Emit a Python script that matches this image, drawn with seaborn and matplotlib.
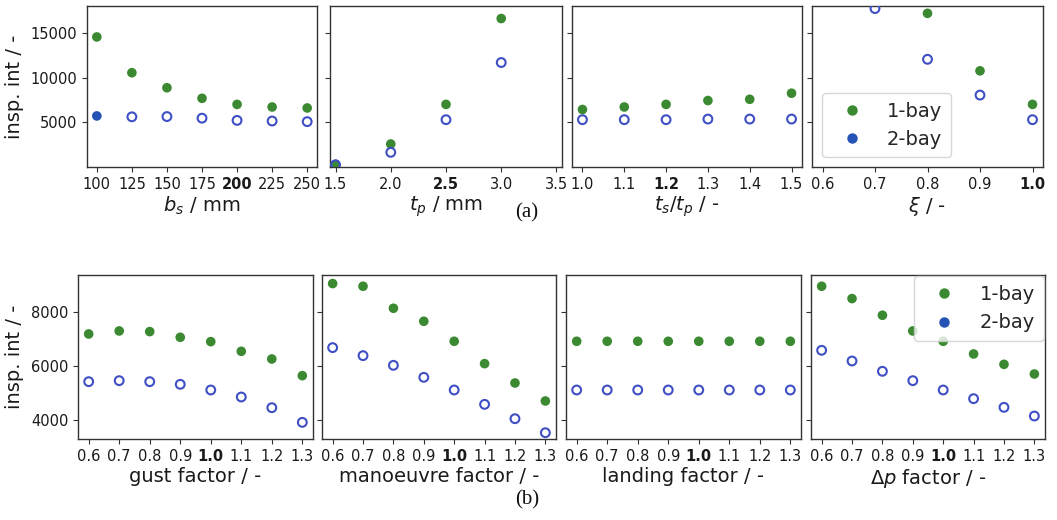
import numpy as np
import pandas as pd
import matplotlib
matplotlib.use("Agg")
import matplotlib.pyplot as plt
from matplotlib.lines import Line2D
from matplotlib.transforms import blended_transform_factory
import seaborn as sns

# ---------------- data (a) ----------------
bs_x = [100, 125, 150, 175, 200, 225, 250]
bs_1bay = [14540, 10540, 8860, 7680, 7000, 6710, 6600]
bs_2bay = [np.nan, 5610, 5640, 5460, 5210, 5140, 5070]
bs_2bay_filled_x = [100]
bs_2bay_filled = [5710]
bs_ticks = [100, 125, 150, 175, 200, 225, 250]
bs_ticklabels = ["100", "125", "150", "175", "200", "225", "250"]

tp_x = [1.5, 2.0, 2.5, 3.0]
tp_1bay = [290, 2570, 7000, 16600]
tp_2bay = [250, 1640, 5290, 11680]
tp_ticks = [1.5, 2.0, 2.5, 3.0, 3.5]
tp_ticklabels = ["1.5", "2.0", "2.5", "3.0", "3.5"]

ts_x = [1.0, 1.1, 1.2, 1.3, 1.4, 1.5]
ts_1bay = [6430, 6710, 7000, 7430, 7570, 8250]
ts_2bay = [5290, 5290, 5290, 5360, 5360, 5360]
ts_ticks = [1.0, 1.1, 1.2, 1.3, 1.4, 1.5]
ts_ticklabels = ["1.0", "1.1", "1.2", "1.3", "1.4", "1.5"]

xi_x = [0.6, 0.7, 0.8, 0.9, 1.0]
xi_1bay = [np.nan, np.nan, 17180, 10750, 7000]
xi_2bay = [np.nan, 17710, 12040, 8040, 5290]
xi_ticks = [0.6, 0.7, 0.8, 0.9, 1.0]
xi_ticklabels = ["0.6", "0.7", "0.8", "0.9", "1.0"]

# ---------------- data (b) ----------------
fac_x = [0.6, 0.7, 0.8, 0.9, 1.0, 1.1, 1.2, 1.3]
fac_ticklabels = ["0.6", "0.7", "0.8", "0.9", "1.0", "1.1", "1.2", "1.3"]
gust_1bay = [7175, 7286, 7262, 7052, 6892, 6535, 6252, 5637]
gust_2bay = [5415, 5452, 5415, 5317, 5108, 4849, 4455, 3914]
man_1bay = [9034, 8935, 8123, 7643, 6905, 6080, 5366, 4702]
man_2bay = [6671, 6375, 6018, 5575, 5108, 4578, 4049, 3532]
land_1bay = [6905, 6905, 6905, 6905, 6905, 6905, 6905, 6905]
land_2bay = [5108, 5108, 5108, 5108, 5108, 5108, 5108, 5108]
dp_1bay = [8935, 8480, 7865, 7286, 6905, 6437, 6055, 5698]
dp_2bay = [6572, 6178, 5797, 5452, 5108, 4788, 4468, 4148]

GREEN = "#3b8a32"
BLUE = "#3f4fc4"
BLUE_FILL = "#2452b5"
TXT = "#1a1a1a"

sns.set_style("ticks")
plt.rcParams["font.family"] = ["DejaVu Sans"]
plt.rcParams["axes.edgecolor"] = "#333333"
plt.rcParams["xtick.color"] = "#333333"
plt.rcParams["ytick.color"] = "#333333"
plt.rcParams["xtick.labelcolor"] = TXT
plt.rcParams["ytick.labelcolor"] = TXT

W, H = 1057, 520
fig = plt.figure(figsize=(W / 100, H / 100), dpi=100)


def make_ax(x0, x1, y0, y1):
    return fig.add_axes([x0 / W, 1 - y1 / H, (x1 - x0) / W, (y1 - y0) / H])


def draw(ax, x, g, b, ticks, labels, bold, xlabel, ylim, yticks, ylabel=None):
    df = pd.DataFrame({"x": x, "g": g, "b": b})
    sns.scatterplot(data=df, x="x", y="g", ax=ax, color=GREEN, s=48,
                    edgecolor="none", zorder=3, legend=False)
    sns.scatterplot(data=df, x="x", y="b", ax=ax, facecolor="none",
                    edgecolor=BLUE, s=40, linewidth=1.5, zorder=3, legend=False)
    ax.set_ylim(*ylim)
    ax.set_yticks(yticks)
    if ylabel:
        ax.set_yticklabels([str(v) for v in yticks], fontsize=10.5)
        ax.set_ylabel(ylabel, fontsize=14, color=TXT)
    else:
        ax.set_yticklabels([])
        ax.set_ylabel("")
    ax.set_xticks(ticks)
    ax.set_xticklabels(labels, fontsize=10.5)
    for t in ax.get_xticklabels():
        if t.get_text() == bold:
            t.set_fontweight("bold")
    ax.set_xlabel(xlabel, fontsize=14, color=TXT, labelpad=2)
    for s in ax.spines.values():
        s.set_linewidth(1.0)


ylim_a = (0, 18000)
yt_a = [5000, 10000, 15000]
ylim_b = (3300, 9350)
yt_b = [4000, 6000, 8000]

# top row
a1 = make_ax(87, 317, 6, 167)
draw(a1, bs_x, bs_1bay, bs_2bay, bs_ticks, bs_ticklabels, "200",
     r"$b_s$ / mm", ylim_a, yt_a, "insp. int / -")
sns.scatterplot(x=bs_2bay_filled_x, y=bs_2bay_filled, ax=a1, color=BLUE_FILL,
                s=48, edgecolor="none", zorder=3, legend=False)
a1.set_xlim(93, 257)

a2 = make_ax(330, 562, 6, 167)
draw(a2, tp_x, tp_1bay, tp_2bay, tp_ticks, tp_ticklabels, "2.5",
     r"$t_p$ / mm", ylim_a, yt_a)
a2.set_xlim(1.45, 3.55)

a3 = make_ax(572, 802, 6, 167)
draw(a3, ts_x, ts_1bay, ts_2bay, ts_ticks, ts_ticklabels, "1.2",
     r"$t_s/t_p$ / -", ylim_a, yt_a)
a3.set_xlim(0.975, 1.525)

a4 = make_ax(812, 1043, 6, 167)
draw(a4, xi_x, xi_1bay, xi_2bay, xi_ticks, xi_ticklabels, "1.0",
     r"$\xi$ / -", ylim_a, yt_a)
a4.set_xlim(0.58, 1.02)

handles = [
    Line2D([], [], ls="none", marker="o", ms=7.5, mfc=GREEN, mec="none", label="1-bay"),
    Line2D([], [], ls="none", marker="o", ms=7.5, mfc=BLUE_FILL, mec="none", label="2-bay"),
]
a4.legend(handles=handles, loc="lower left", fontsize=14, handlelength=2.2,
          handletextpad=0.7, borderpad=0.45, labelspacing=0.45)

# bottom row
b1 = make_ax(78, 313, 275, 439)
draw(b1, fac_x, gust_1bay, gust_2bay, fac_x, fac_ticklabels, "1.0",
     "gust factor / -", ylim_b, yt_b, "insp. int / -")
b2 = make_ax(322, 556, 275, 439)
draw(b2, fac_x, man_1bay, man_2bay, fac_x, fac_ticklabels, "1.0",
     "manoeuvre factor / -", ylim_b, yt_b)
b3 = make_ax(566, 801, 275, 439)
draw(b3, fac_x, land_1bay, land_2bay, fac_x, fac_ticklabels, "1.0",
     "landing factor / -", ylim_b, yt_b)
b4 = make_ax(811, 1045, 275, 439)
draw(b4, fac_x, dp_1bay, dp_2bay, fac_x, fac_ticklabels, "1.0",
     r"$\Delta p$ factor / -", ylim_b, yt_b)
b4.legend(handles=handles, loc="upper right", fontsize=14, handlelength=2.2,
          handletextpad=0.75, borderpad=0.45, labelspacing=0.5,
          borderaxespad=0.05)

# y-labels at a fixed figure position
for ax in (a1, b1):
    lbl = ax.yaxis.label
    ax.yaxis.set_label_coords(24 / W, 0.5)
    lbl.set_transform(blended_transform_factory(fig.transFigure, ax.transAxes))
    lbl.set_position((24 / W, 0.5))

fig.text(527 / W, 1 - 213 / H, "(a)", ha="center", va="center",
         fontsize=15, family="Liberation Serif", color="#111111")
fig.text(527 / W, 1 - 500 / H, "(b)", ha="center", va="center",
         fontsize=15, family="Liberation Serif", color="#111111")

fig.savefig("out.png", dpi=100)
